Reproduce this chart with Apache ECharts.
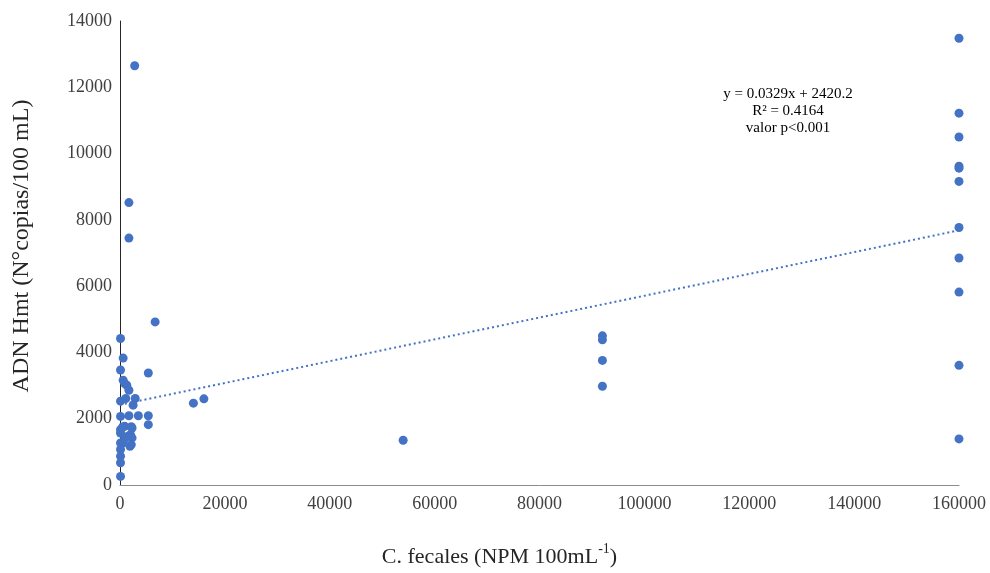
<!DOCTYPE html>
<html>
<head>
<meta charset="utf-8">
<script src="https://cdn.jsdelivr.net/npm/echarts@6/dist/echarts.min.js"></script>
<style>html,body{margin:0;padding:0;background:#fff}#c{width:990px;height:573px}</style>
</head>
<body>
<div id="c"></div>
<script>
// C. fecales (NPM 100mL-1) values
var xValues = [100, 600, 100, 5400, 600, 900, 1300, 1700, 100, 1100, 2900, 2500, 100, 1700, 3500, 5400, 5400, 100, 100, 900, 2300, 2000, 2300, 1900, 100, 600, 100, 100, 100, 100, 2150, 900, 1500, 2150, 500,
  1700, 1700, 2800, 6700, 14000, 16000, 54000,
  92000, 92000, 92000, 92000,
  160000, 160000, 160000, 160000, 160000, 160000, 160000, 160000, 160000, 160000, 160000];
// ADN Hmt (N°copias/100 mL) values
var yValues = [4420, 3830, 3470, 3380, 3160, 3060, 3010, 2860, 2530, 2610, 2610, 2410, 2070, 2090, 2090, 2090, 1820, 1670, 1570, 1770, 1720, 1520, 1420, 1170, 1270, 1270, 1070, 870, 670, 260, 1760, 1410, 1470, 1220, 1750,
  8520, 7450, 12650, 4920, 2470, 2600, 1350,
  4500, 4380, 3760, 2980,
  13480, 11220, 10500, 9620, 9560, 9160, 7770, 6850, 5820, 3610, 1390];
var xTicks = [0, 20000, 40000, 60000, 80000, 100000, 120000, 140000, 160000];
var yTicks = [0, 2000, 4000, 6000, 8000, 10000, 12000, 14000];
// Trendline from the stated equation
var slope = 0.0329, intercept = 2420.2;
var trendX = [0, 160000];
var eqLines = ['y = 0.0329x + 2420.2', 'R² = 0.4164', 'valor p<0.001'];

var pts = xValues.map(function (x, i) { return [x, yValues[i]]; });
var trend = trendX.map(function (x) { return [x, slope * x + intercept]; });

var chart = echarts.init(document.getElementById('c'));
var font = 'Liberation Serif';
chart.setOption({
  animation: false,
  grid: { left: 120, right: 31, top: 21, bottom: 82 },
  xAxis: {
    type: 'value', min: xTicks[0], max: xTicks[xTicks.length - 1], interval: 20000,
    splitLine: { show: false },
    axisTick: { show: false },
    axisLine: { show: true, lineStyle: { color: '#8c8c8c', width: 1 } },
    axisLabel: { fontFamily: font, fontSize: 18, color: '#404040', margin: 10, formatter: function (v) { return String(v); } },
    name: '{a|C. fecales (NPM 100mL}{s|-1}{a|)}',
    nameLocation: 'middle', nameGap: 57,
    nameTextStyle: {
      padding: [0, 80, 0, 0],
      rich: {
        a: { fontFamily: font, fontSize: 22, color: '#262626', verticalAlign: 'bottom', lineHeight: 26 },
        s: { fontFamily: font, fontSize: 14, color: '#262626', verticalAlign: 'top', lineHeight: 26, padding: [0, 0, 10, 0] }
      }
    }
  },
  yAxis: {
    type: 'value', min: yTicks[0], max: yTicks[yTicks.length - 1], interval: 2000,
    splitLine: { show: false },
    axisTick: { show: false },
    axisLine: { show: true, lineStyle: { color: '#262626', width: 1 } },
    axisLabel: { fontFamily: font, fontSize: 18, color: '#404040', margin: 8, formatter: function (v) { return String(v); } },
    name: 'ADN Hmt (N°copias/100 mL)',
    nameLocation: 'middle', nameGap: 86, nameRotate: 90,
    nameTextStyle: { fontFamily: font, fontSize: 24, color: '#262626', padding: [0, 0, 0, 14] }
  },
  graphic: eqLines.map(function (t, i) {
    return {
      type: 'text', x: 788, y: 94 + i * 17,
      style: { text: t, fontFamily: font, fontSize: 15, fill: '#000', align: 'center', verticalAlign: 'middle' }
    };
  }),
  series: [
    {
      type: 'line', data: trend, symbol: 'none', silent: true, z: 1,
      lineStyle: { color: '#4472C4', width: 2, type: [2, 3] }
    },
    {
      type: 'scatter', data: pts, symbol: 'circle', symbolSize: 9, z: 2,
      itemStyle: { color: '#4472C4', opacity: 1 }
    }
  ]
});
</script>
</body>
</html>
